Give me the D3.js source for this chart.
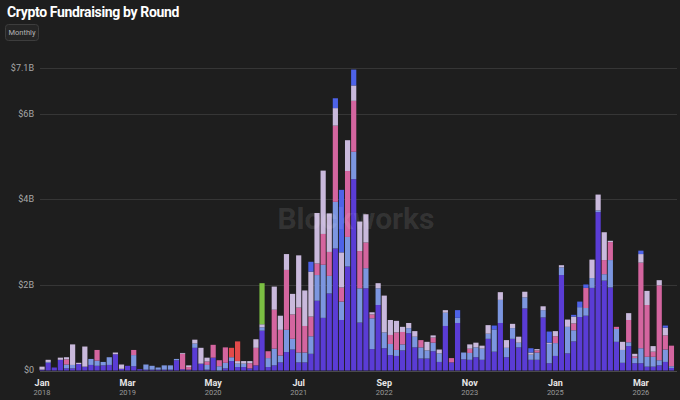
<!DOCTYPE html>
<html><head><meta charset="utf-8">
<script src="https://cdn.jsdelivr.net/npm/d3@7"></script>
<style>
html,body{margin:0;padding:0;background:#1e1e1e;}
svg{display:block;}
text{font-family:Roboto,"Liberation Sans",Arial,sans-serif;}
</style></head><body>
<svg id="chart" width="680" height="400"></svg>
<script>
// ---- DATA (values in $B, monthly, Jan 2018 .. Aug 2026) ----
const months = d3.utcMonth.range(new Date(Date.UTC(2018,0,1)), new Date(Date.UTC(2026,8,1)));
const roundKeys = ["Seed","Series A","Series B","Strategic","Series C+","ICO","Other"];

const seed = [0.02,0.18,0.07,0.25,0.05,0.05,0.15,0.09,0.13,0.11,0.12,0.13,0.38,0.04,0.11,0.10,0.03,0.02,0.02,0.02,
0.02,0.02,0.24,0.03,0.02,0.53,0.16,0.02,0.30,0.00,0.05,0.22,0.08,0.08,0.05,0.12,0.93,0.08,0.12,0.19,
0.43,0.49,0.19,0.19,0.39,1.63,1.23,1.80,2.85,1.18,2.43,4.47,1.12,1.92,0.50,1.53,0.52,0.36,0.34,0.47,
0.87,0.54,0.28,0.28,0.45,0.20,1.04,0.19,1.11,0.26,0.25,0.31,0.25,0.74,0.44,1.11,0.31,0.74,0.54,1.45,
0.25,0.25,1.24,0.17,0.34,2.23,0.40,0.68,1.25,1.28,1.93,3.70,2.10,1.94,0.67,0.18,0.57,0.17,0.17,0.09,
0.09,0.12,0.20,0.06];
const seriesA = [0,0.02,0,0,0.09,0.08,0,0,0.14,0.12,0.08,0.18,0,0,0,0.26,0,0.12,0.09,0.05,
0.10,0.10,0.03,0,0,0.10,0,0.11,0,0.10,0.13,0.09,0.08,0.08,0,0,0.08,0.21,0.39,0.16,
0.52,0.25,0.23,0.23,0.41,0.60,1.24,0.41,1.09,0.43,0.69,0.64,0.80,0.47,0.72,0.39,0.37,0.26,0.14,0.14,
0.12,0.25,0.26,0.19,0.20,0.20,0.31,0,0.12,0.16,0.16,0.23,0.26,0.12,0.52,0.54,0.22,0.25,0.11,0.26,
0.12,0.17,0.17,0.45,0.30,0.18,0.62,0.26,0.23,0.18,0.23,0.04,0.15,0.64,0.30,0.30,0.09,0.12,0.35,0.23,
0.23,0.12,0.29,0.04];
const seriesB = [0,0,0,0,0.12,0,0,0,0,0.25,0,0,0,0,0,0.12,0,0,0,0,
0,0,0,0.36,0.06,0,0,0.08,0.30,0.14,0.36,0,0,0,0.12,0.41,0,0.16,0.91,0.60,
1.40,0.57,1.05,0.62,0.46,0.27,0.72,0.56,1.78,0.33,1.54,1.19,0.87,0.60,0.09,0,0,0.21,0.41,0.29,
0,0,0.17,0,0.12,0,0,0.10,0,0,0.10,0,0,0,0,0,0,0,0,0,
0,0.05,0,0,0.16,0,0,0.16,0,0.47,0,0,0.33,0.42,0.05,0,0.52,0.04,2.00,1.21,
0.12,1.75,0.33,0.48];
const strategic = [0.07,0.05,0,0.05,0.05,0.48,0.03,0.47,0,0,0,0,0.04,0.10,0,0,0,0,0,0,
0,0,0,0.02,0.04,0.09,0.37,0.09,0,0,0,0,0.06,0.06,0.05,0.20,0.07,0,0.54,0.33,
0.37,0.48,1.22,0.83,1.05,1.18,1.48,0.90,0.41,0.82,0.72,0.36,0.69,0.66,0.05,0.12,0.86,0.35,0.27,0.12,
0.12,0.13,0,0.20,0.05,0.09,0.06,0,0,0,0.10,0.11,0.07,0.20,0,0.18,0.18,0.10,0.14,0.13,
0.05,0.03,0.09,0.03,0.12,0.05,0.17,0.16,0,0,0.43,0.37,0.65,0.03,0,0.19,0.16,0.06,0.20,0.33,
0.13,0.12,0.18,0];
const seriesC = [0,0,0,0,0,0,0,0,0,0,0,0,0,0,0,0,0,0,0,0,
0,0,0,0,0,0,0,0,0,0,0,0,0,0,0,0,0,0,0,0,
0,0,0,0,0.23,0,0,0,0.23,1.46,0,0.37,0,0,0,0,0,0,0,0,
0,0,0,0,0,0,0,0,0.18,0,0,0,0,0,0.09,0,0,0,0,0,
0.10,0,0,0.26,0,0,0,0.04,0.13,0.08,0,0,0,0,0,0,0,0,0.08,0,
0,0,0.05,0];
const ico = months.map((m,i)=> i===31 ? 0.22 : i===32 ? 0.46 : 0);
const other = months.map((m,i)=> i===36 ? 0.96 : 0);

const yMax = 7.06;
const yTicks = [0,2,4,6,yMax];
const yTickLabels = ["$0","$2B","$4B","$6B","$7.1B"];
const xTickKeys = ["2018-01","2019-03","2020-05","2021-07","2022-09","2023-11","2025-01","2026-03"];
const xTickMonths = ["Jan","Mar","May","Jul","Sep","Nov","Jan","Mar"];
const xTickYears = ["2018","2019","2020","2021","2022","2023","2025","2026"];
const colors = ["#5a3cd5","#7c96e0","#d4659f","#c9b9dc","#4d62e8","#e24a4a","#7bbf42"];

// ---- BUILD ----
const fmt = d3.utcFormat("%Y-%m");
const seriesArrays = [seed,seriesA,seriesB,strategic,seriesC,ico,other];
const table = months.map((m,i)=>{
  const row = {key: fmt(m)};
  roundKeys.forEach((k,j)=> row[k] = seriesArrays[j][i]);
  return row;
});

const svg = d3.select("#chart");
svg.append("rect").attr("width",680).attr("height",400).attr("fill","#1e1e1e");

const x = d3.scaleBand().domain(table.map(d=>d.key)).range([39,674.5]).paddingInner(0.15).paddingOuter(0.075);
const y = d3.scaleLinear().domain([0,yMax]).range([370.5,68.3]);

// title + button
svg.append("text").attr("x",7).attr("y",17).attr("fill","#ffffff")
  .attr("font-size",14).attr("font-weight",700).attr("letter-spacing",-0.35)
  .text("Crypto Fundraising by Round");
svg.append("rect").attr("x",5.5).attr("y",24.5).attr("width",33).attr("height",16).attr("rx",3)
  .attr("fill","#252525").attr("stroke","#3d3d3d");
svg.append("text").attr("x",22).attr("y",35).attr("text-anchor","middle").attr("fill","#b4b4b4")
  .attr("font-size",7.5).text("Monthly");

// grid
const grid = svg.append("g");
grid.selectAll("line").data(yTicks).join("line")
  .attr("x1",40).attr("x2",677)
  .attr("y1",d=>Math.round(y(d))+0.5).attr("y2",d=>Math.round(y(d))+0.5)
  .attr("stroke",d=>d===0?"#4a4a4a":"#363636").attr("stroke-width",1);
grid.selectAll("text").data(yTicks).join("text")
  .attr("x",34).attr("y",d=>y(d)).attr("dy","0.33em").attr("text-anchor","end")
  .attr("fill","#a8a8a8").attr("font-size",9)
  .text((d,i)=>yTickLabels[i]);

// bars
const stack = d3.stack().keys(roundKeys)(table);
svg.append("g").selectAll("g").data(stack).join("g")
  .attr("fill",(d,i)=>colors[i])
  .selectAll("rect").data(d=>d.filter(s=>s[1]-s[0]>0)).join("rect")
  .attr("x",d=>x(d.data.key)).attr("width",x.bandwidth())
  .attr("y",d=>y(d[1])).attr("height",d=>y(d[0])-y(d[1]));

// watermark
svg.append("text").attr("x",356).attr("y",229).attr("text-anchor","middle")
  .attr("font-size",30).attr("font-weight",700).attr("fill","#ffffff").attr("fill-opacity",0.1)
  .text("Blockworks");

// x axis labels
const xl = svg.append("g");
xTickKeys.forEach((k,i)=>{
  const cx = x(k) + x.bandwidth()/2;
  xl.append("text").attr("x",cx).attr("y",386).attr("text-anchor","middle")
    .attr("fill","#e6e6e6").attr("font-size",9).attr("font-weight",700).text(xTickMonths[i]);
  xl.append("text").attr("x",cx).attr("y",395).attr("text-anchor","middle")
    .attr("fill","#9a9a9a").attr("font-size",7.5).text(xTickYears[i]);
});
</script>
</body></html>
